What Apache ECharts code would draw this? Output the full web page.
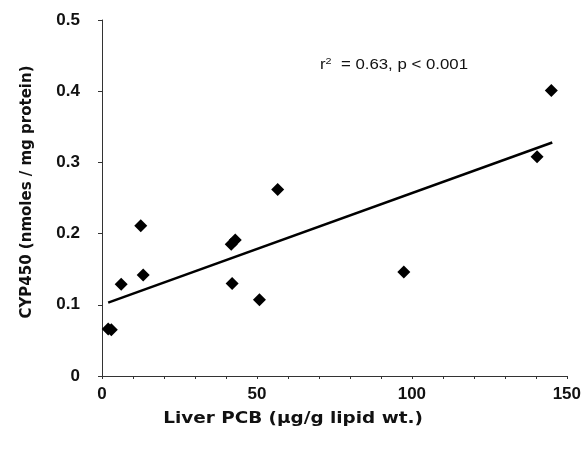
<!DOCTYPE html>
<html>
<head>
<meta charset="utf-8">
<script src="https://cdn.jsdelivr.net/npm/echarts@6/dist/echarts.min.js"></script>
<style>html,body{margin:0;padding:0;background:#fff}#c{width:584px;height:454px}</style>
</head>
<body>
<div id="c"></div>
<script>
const pcbValues = [2, 3, 6.2, 12.5, 13.3, 41.7, 43.0, 42.0, 50.8, 56.7, 97.4, 140.4, 145];
const cypValues = [0.066, 0.065, 0.129, 0.211, 0.142, 0.185, 0.191, 0.130, 0.107, 0.262, 0.146, 0.308, 0.401];
const trendX = [2, 145.3];
const trendY = [0.103, 0.328];
const xTicks = [0, 50, 100, 150];
const yTicks = [0, 0.1, 0.2, 0.3, 0.4, 0.5];
const xTitle = 'Liver PCB (µg/g lipid wt.)';
const yTitle = 'CYP450 (nmoles / mg protein)';
const annotation = 'r{sup|2}  = 0.63, p < 0.001';

const chart = echarts.init(document.getElementById('c'), null, {renderer: 'canvas'});
const font = 'Liberation Sans, Arial, sans-serif';
const titleFont = 'DejaVu Sans, sans-serif';
chart.setOption({
  animation: false,
  backgroundColor: '#fff',
  grid: {left: 102, top: 20, right: 17, bottom: 78, containLabel: false},
  xAxis: {
    type: 'value', min: xTicks[0], max: xTicks[xTicks.length - 1], interval: 50,
    axisLine: {show: true, lineStyle: {color: '#333', width: 1}},
    axisTick: {show: true, length: 3, lineStyle: {color: '#333'}},
    minorTick: {show: true, splitNumber: 5, length: 3, lineStyle: {color: '#333'}},
    splitLine: {show: false},
    axisLabel: {color: '#111', fontFamily: font, fontSize: 17, fontWeight: 'bold', margin: 10}
  },
  yAxis: {
    type: 'value', min: yTicks[0], max: yTicks[yTicks.length - 1], interval: 0.1,
    axisLine: {show: true, lineStyle: {color: '#333', width: 1}},
    axisTick: {show: true, length: 4, lineStyle: {color: '#333'}},
    splitLine: {show: false},
    axisLabel: {color: '#111', fontFamily: font, fontSize: 17, fontWeight: 'bold', margin: 22,
      formatter: v => (Math.round(v * 10) / 10).toString()}
  },
  series: [
    {
      type: 'line', data: trendX.map((x, i) => [x, trendY[i]]),
      symbol: 'none', lineStyle: {color: '#000', width: 2.5}, silent: true, z: 2
    },
    {
      type: 'scatter', data: pcbValues.map((x, i) => [x, cypValues[i]]),
      symbol: 'diamond', symbolSize: [13, 13],
      itemStyle: {color: '#000', opacity: 1}, z: 3
    }
  ],
  graphic: [
    {type: 'text', x: 293, y: 419, scaleX: 1.15,
      style: {text: xTitle, font: 'bold 16px ' + titleFont, fill: '#111', align: 'center', verticalAlign: 'middle'}},
    {type: 'text', x: 27, y: 192, rotation: Math.PI / 2,
      style: {text: yTitle, font: 'bold 15px ' + titleFont, fill: '#111', align: 'center', verticalAlign: 'middle'}},
    {type: 'text', x: 320, y: 65, scaleX: 1.2,
      style: {text: annotation, fontFamily: font, fontSize: 14, fill: '#111', align: 'left', verticalAlign: 'middle',
        rich: {sup: {fontFamily: font, fontSize: 9, verticalAlign: 'top', padding: [0, 0, 7, 0], fill: '#111'}}}}
  ]
});
</script>
</body>
</html>
